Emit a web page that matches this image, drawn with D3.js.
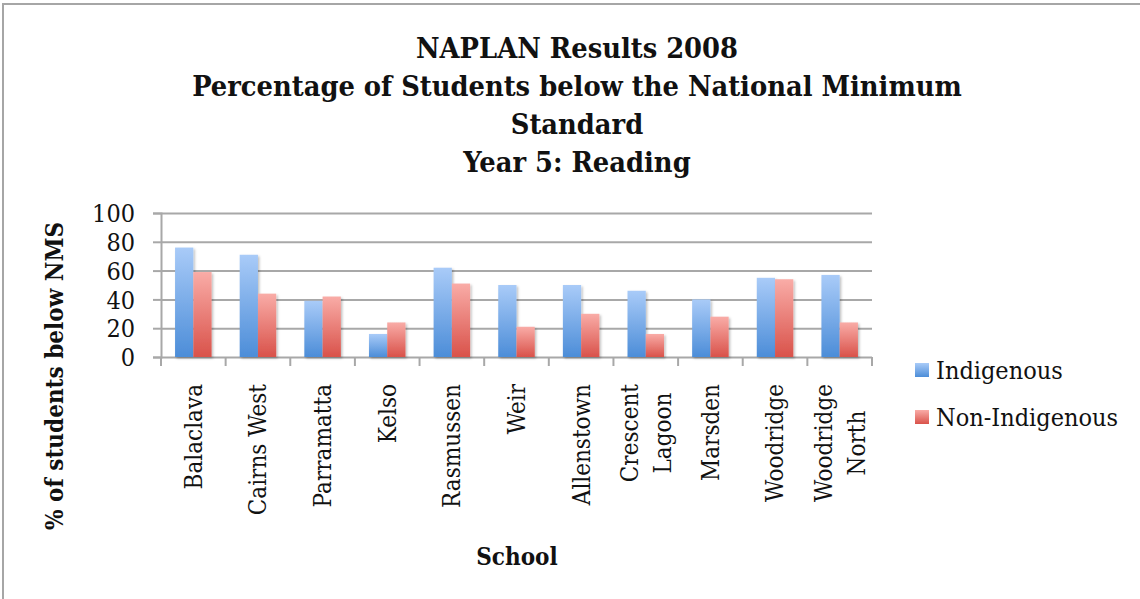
<!DOCTYPE html>
<html>
<head>
<meta charset="utf-8">
<script src="https://cdn.jsdelivr.net/npm/d3@7"></script>
<style>
  body { margin: 0; background: #fff; }
  svg text { font-family: "DejaVu Serif Condensed", "DejaVu Serif", serif; fill: #111; }
</style>
</head>
<body>
<svg id="chart" width="1140" height="599"></svg>
<script>
// data
const schools = ["Balaclava", "Cairns West", "Parramatta", "Kelso", "Rasmussen", "Weir",
  "Allenstown", "Crescent Lagoon", "Marsden", "Woodridge", "Woodridge North"];
const schoolLabels = [["Balaclava"], ["Cairns West"], ["Parramatta"], ["Kelso"], ["Rasmussen"], ["Weir"],
  ["Allenstown"], ["Crescent", "Lagoon"], ["Marsden"], ["Woodridge"], ["Woodridge", "North"]];
const seriesNames = ["Indigenous", "Non-Indigenous"];
const indigenous = [76, 71, 39, 16, 62, 50, 50, 46, 40, 55, 57];
const nonIndigenous = [59, 44, 42, 24, 51, 21, 30, 16, 28, 54, 24];
const yTicks = [0, 20, 40, 60, 80, 100];
const titleLines = ["NAPLAN Results 2008", "Percentage of Students below the National Minimum",
  "Standard", "Year 5: Reading"];

const svg = d3.select('svg#chart');
const size = { width: +svg.attr('width'), height: +svg.attr('height') };

// plot area
const pad = { top: 213, right: 268, bottom: 242, left: 161 };
const width = size.width - pad.left - pad.right;
const height = size.height - pad.top - pad.bottom;

const gridColor = '#a8a8a8';
const colors = {
  'Indigenous': ['#a9cbf8', '#4c8dd8'],
  'Non-Indigenous': ['#f9aca7', '#d9524a']
};

// table for the grouped bars
const rows = schools.map((s, i) => ({ school: s, 'Indigenous': indigenous[i], 'Non-Indigenous': nonIndigenous[i] }));

const x0 = d3.scaleBand().domain(schools).range([0, width]);
const x1 = d3.scaleBand().domain(seriesNames).range([0, x0.bandwidth()]).paddingOuter(0.77);
const y = d3.scaleLinear().domain([0, 100]).range([height, 0]);

// outer frame (only top and left edges are visible)
svg.append('path')
  .attr('d', `M3,${size.height} V4 H${size.width}`)
  .attr('fill', 'none')
  .attr('stroke', '#a6a6a6')
  .attr('stroke-width', 2);

// gradients + a soft shadow for bars
const defs = svg.append('defs');
seriesNames.forEach((name, i) => {
  const g = defs.append('linearGradient')
    .attr('id', 'grad' + i)
    .attr('x1', 0).attr('y1', 0).attr('x2', 0).attr('y2', 1);
  g.append('stop').attr('offset', '0%').attr('stop-color', colors[name][0]);
  g.append('stop').attr('offset', '100%').attr('stop-color', colors[name][1]);
});
const shadow = defs.append('filter').attr('id', 'shadow')
  .attr('x', '-20%').attr('y', '-10%').attr('width', '150%').attr('height', '130%');
shadow.append('feDropShadow')
  .attr('dx', 1.5).attr('dy', 1.5).attr('stdDeviation', 1.2)
  .attr('flood-color', '#000').attr('flood-opacity', 0.25);

const plot = svg.append('g').attr('transform', `translate(${pad.left}, ${pad.top})`);

drawGrid();
drawBars();
drawAxes();
drawTitles();
drawLegend();

function drawGrid() {
  plot.append('g')
    .call(d3.axisLeft(y).tickValues(yTicks).tickSize(-width).tickFormat(''))
    .call(g => g.select('.domain').remove())
    .call(g => g.selectAll('line').attr('stroke', gridColor).attr('stroke-width', 2));
}

function drawBars() {
  plot.append('g').selectAll('g')
    .data(rows)
    .join('g')
      .attr('transform', d => `translate(${x0(d.school)}, 0)`)
    .selectAll('rect')
    .data(d => seriesNames.map((k, i) => ({ key: k, i: i, value: d[k] })))
    .join('rect')
      .attr('x', d => x1(d.key))
      .attr('y', d => y(d.value))
      .attr('width', x1.bandwidth())
      .attr('height', d => y(0) - y(d.value))
      .attr('fill', d => `url(#grad${d.i})`)
      .attr('filter', 'url(#shadow)');
}

function drawAxes() {
  // y axis with labels
  plot.append('g')
    .call(d3.axisLeft(y).tickValues(yTicks).tickSize(8).tickPadding(18))
    .call(g => g.select('.domain').attr('stroke', gridColor).attr('stroke-width', 2))
    .call(g => g.selectAll('line').attr('stroke', gridColor).attr('stroke-width', 2))
    .call(g => g.selectAll('text').style('font-size', '25px').attr('dy', '0.35em'));

  // category boundary ticks
  const bounds = schools.map(s => x0(s)).concat([width]);
  plot.append('g').selectAll('line')
    .data(bounds)
    .join('line')
      .attr('x1', d => d).attr('x2', d => d)
      .attr('y1', height).attr('y2', height + 9)
      .attr('stroke', gridColor).attr('stroke-width', 2);

  // category labels, rotated, multi-line centred
  const lh = 33;
  const labels = plot.append('g').selectAll('text')
    .data(schools)
    .join('text')
      .style('font-size', '24px')
      .attr('text-anchor', 'middle');
  labels.each(function(s, i) {
    const t = d3.select(this);
    const lines = schoolLabels[i];
    lines.forEach((ln, j) => {
      t.append('tspan')
        .attr('x', 0)
        .attr('y', (j - (lines.length - 1) / 2) * lh)
        .attr('dy', '0.35em')
        .text(ln);
    });
    let maxLen = 0;
    t.selectAll('tspan').each(function() { maxLen = Math.max(maxLen, this.getComputedTextLength()); });
    const cx = x0(s) + x0.bandwidth() / 2;
    const top = height + 27;
    t.attr('transform', `translate(${cx}, ${top + maxLen / 2}) rotate(-90)`);
  });

  // axis titles
  svg.append('text')
    .attr('transform', `translate(63, 376) rotate(-90)`)
    .attr('text-anchor', 'middle')
    .style('font-size', '24px')
    .style('font-weight', 'bold')
    .text('% of students below NMS');

  svg.append('text')
    .attr('x', 517).attr('y', 565)
    .attr('text-anchor', 'middle')
    .style('font-size', '24px')
    .style('font-weight', 'bold')
    .text('School');
}

function drawTitles() {
  svg.append('g').selectAll('text')
    .data(titleLines)
    .join('text')
      .attr('x', 577)
      .attr('y', (d, i) => 58 + i * 38)
      .attr('text-anchor', 'middle')
      .style('font-size', '28.7px')
      .style('font-weight', 'bold')
      .text(d => d);
}

function drawLegend() {
  const lg = svg.append('g').attr('transform', 'translate(915, 363)');
  const item = lg.selectAll('g')
    .data(seriesNames)
    .join('g')
      .attr('transform', (d, i) => `translate(0, ${i * 47})`);
  item.append('rect')
    .attr('width', 14).attr('height', 14)
    .attr('fill', (d, i) => `url(#grad${i})`);
  item.append('text')
    .attr('x', 21).attr('y', 7)
    .attr('dy', '0.35em')
    .style('font-size', '25px')
    .text(d => d);
}
</script>
</body>
</html>
